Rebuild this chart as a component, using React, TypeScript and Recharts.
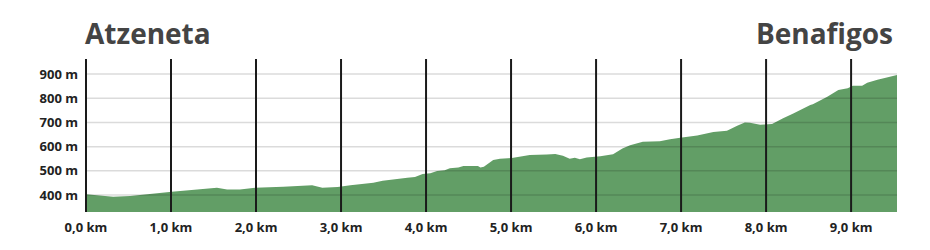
import React from "react";
import {
  ComposedChart,
  Area,
  XAxis,
  YAxis,
  ReferenceLine,
} from "recharts";

// distance (km) / elevation (m)
const distance = [
  0, 0.32, 0.52, 1.01, 1.54, 1.66, 1.81, 1.99, 2.32, 2.66, 2.78, 2.96, 3.11,
  3.38, 3.49, 3.78, 3.87, 3.96, 4.05, 4.13, 4.22, 4.28, 4.38, 4.44, 4.61, 4.64,
  4.68, 4.79, 4.87, 5.01, 5.22, 5.42, 5.52, 5.61, 5.69, 5.75, 5.81, 5.89, 6.05,
  6.2, 6.31, 6.4, 6.55, 6.75, 6.87, 6.99, 7.19, 7.38, 7.54, 7.66, 7.75, 7.81,
  7.93, 8.07, 8.2, 8.32, 8.52, 8.55, 8.72, 8.85, 8.96, 9.02, 9.13, 9.19, 9.31,
  9.42, 9.54,
];
const elevation = [
  403, 393, 396, 414, 430, 423, 423, 430, 434, 441, 430, 433, 440, 451, 459,
  471, 475, 487, 490, 499, 502, 511, 514, 520, 520, 514, 517, 545, 550, 553,
  565, 568, 570, 562, 550, 554, 548, 555, 560, 569, 592, 606, 620, 622, 631,
  637, 646, 660, 666, 686, 700, 699, 690, 693, 717, 737, 772, 775, 806, 834,
  841, 852, 852, 864, 876, 886, 896,
];
const kmTicks = [0, 1, 2, 3, 4, 5, 6, 7, 8, 9];
const elevTicks = [400, 500, 600, 700, 800, 900];
const startName = "Atzeneta";
const endName = "Benafigos";

const data = distance.map((d, i) => ({ km: d, m: elevation[i] }));

const FONT = "'Open Sans', sans-serif";

export default function App() {
  return (
    <div style={{ position: "absolute", left: 0, top: 0, width: 930, height: 250, background: "#fff" }}>
      <ComposedChart
        width={930}
        height={250}
        data={data}
        margin={{ top: 59, right: 33, left: 0, bottom: 0 }}
      >
        <XAxis
          dataKey="km"
          type="number"
          domain={[0, 9.54]}
          ticks={kmTicks}
          tickFormatter={(v: number) => `${v.toFixed(1).replace(".", ",")} km`}
          axisLine={false}
          tickLine={false}
          tickMargin={5}
          height={38}
          tick={{ fill: "#222", fontSize: 13, fontWeight: 700, fontFamily: FONT }}
          interval={0}
        />
        <YAxis
          type="number"
          domain={[330, 962]}
          ticks={elevTicks}
          tickFormatter={(v: number) => `${v} m`}
          axisLine={false}
          tickLine={false}
          width={86}
          tick={{ fill: "#222", fontSize: 13, fontWeight: 700, fontFamily: FONT }}
          interval={0}
        />
        <Area
          dataKey="m"
          type="linear"
          fill="#629e66"
          fillOpacity={1}
          stroke="none"
          isAnimationActive={false}
        />
        {elevTicks.map((t) => (
          <ReferenceLine key={`h${t}`} y={t} stroke="#000" strokeOpacity={0.14} strokeWidth={1.5} />
        ))}
        {kmTicks.map((k) => (
          <ReferenceLine key={`v${k}`} x={k} stroke="#1a1a1a" strokeWidth={2} />
        ))}
      </ComposedChart>
      <div
        style={{
          position: "absolute",
          left: 85,
          top: 14,
          fontFamily: FONT,
          fontWeight: 700,
          fontSize: 28,
          color: "#444",
          lineHeight: "38px",
        }}
      >
        {startName}
      </div>
      <div
        style={{
          position: "absolute",
          right: 37,
          top: 14,
          fontFamily: FONT,
          fontWeight: 700,
          fontSize: 28,
          color: "#444",
          lineHeight: "38px",
        }}
      >
        {endName}
      </div>
    </div>
  );
}
